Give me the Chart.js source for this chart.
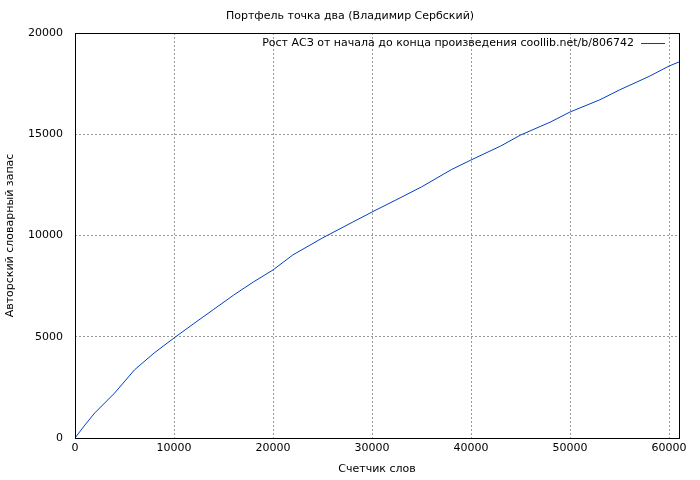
<!DOCTYPE html><html><head><meta charset="utf-8">
<script src="https://cdn.jsdelivr.net/npm/chart.js@4"></script>
<style>body{margin:0;background:#fff}#w{width:700px;height:480px}</style></head><body><div id="w"><canvas id="c"></canvas></div>
<script>
const words=[0,1000,2000,4000,6000,8000,10000,12000,14000,16000,18000,20000,22000,25000,28000,30000,33000,35000,38000,40000,43000,45000,48000,50000,53000,55000,58000,60000,61000];
const stock=[0,640,1240,2220,3360,4200,4940,5650,6350,7050,7700,8300,9040,9880,10650,11160,11900,12400,13250,13730,14420,14960,15600,16100,16700,17190,17860,18370,18570];
const xTicks=[0,10000,20000,30000,40000,50000,60000];
const yTicks=[0,5000,10000,15000,20000];
const titleText='Портфель точка два (Владимир Сербский)';
const legendText='Рост АСЗ от начала до конца произведения coollib.net/b/806742';
const xTitle='Счетчик слов', yTitle='Авторский словарный запас';
const F='"DejaVu Sans"';
const deco={id:'deco',afterDraw(ch){const c=ch.ctx,a=ch.chartArea;c.save();
c.fillStyle='#000';c.font='11px '+F;c.textAlign='center';c.textBaseline='middle';
c.fillText(titleText,350,16);
c.textAlign='right';c.fillText(legendText,a.right-45,43);
c.strokeStyle='#0040c0';c.lineWidth=1;c.beginPath();c.moveTo(a.right-38,43.5);c.lineTo(a.right-14,43.5);c.stroke();
c.strokeStyle='#000';c.strokeRect(a.left+0.5,a.top+0.5,a.right-a.left,a.bottom-a.top);
c.restore();}};
new Chart(document.getElementById('c'),{type:'line',
data:{datasets:[{data:words.map((x,i)=>({x,y:stock[i]})),borderColor:'#0040c0',borderWidth:1,pointRadius:0,tension:0}]},
options:{responsive:true,maintainAspectRatio:false,animation:false,
layout:{padding:{top:33,right:21,left:0,bottom:0}},
plugins:{legend:{display:false},tooltip:{enabled:false}},
scales:{
x:{type:'linear',min:0,max:61000,afterFit(s){s.height=42},
afterBuildTicks(s){s.ticks=xTicks.map(v=>({value:v}))},
ticks:{callback:v=>String(v),color:'#000',font:{family:F,size:11},maxRotation:0,padding:4},
grid:{color:'#999',drawTicks:false},border:{display:false,dash:[2,2]},
title:{display:true,text:xTitle,color:'#000',font:{family:F,size:11},padding:{top:0}}},
y:{min:0,max:20000,afterFit(s){s.width=75},
afterBuildTicks(s){s.ticks=yTicks.map(v=>({value:v}))},
ticks:{callback:v=>String(v),color:'#000',font:{family:F,size:11},padding:12},
grid:{color:'#999',drawTicks:false},border:{display:false,dash:[2,2]},
title:{display:true,text:yTitle,color:'#000',font:{family:F,size:11},padding:{bottom:2}}}}},
plugins:[deco]});
</script></body></html>
